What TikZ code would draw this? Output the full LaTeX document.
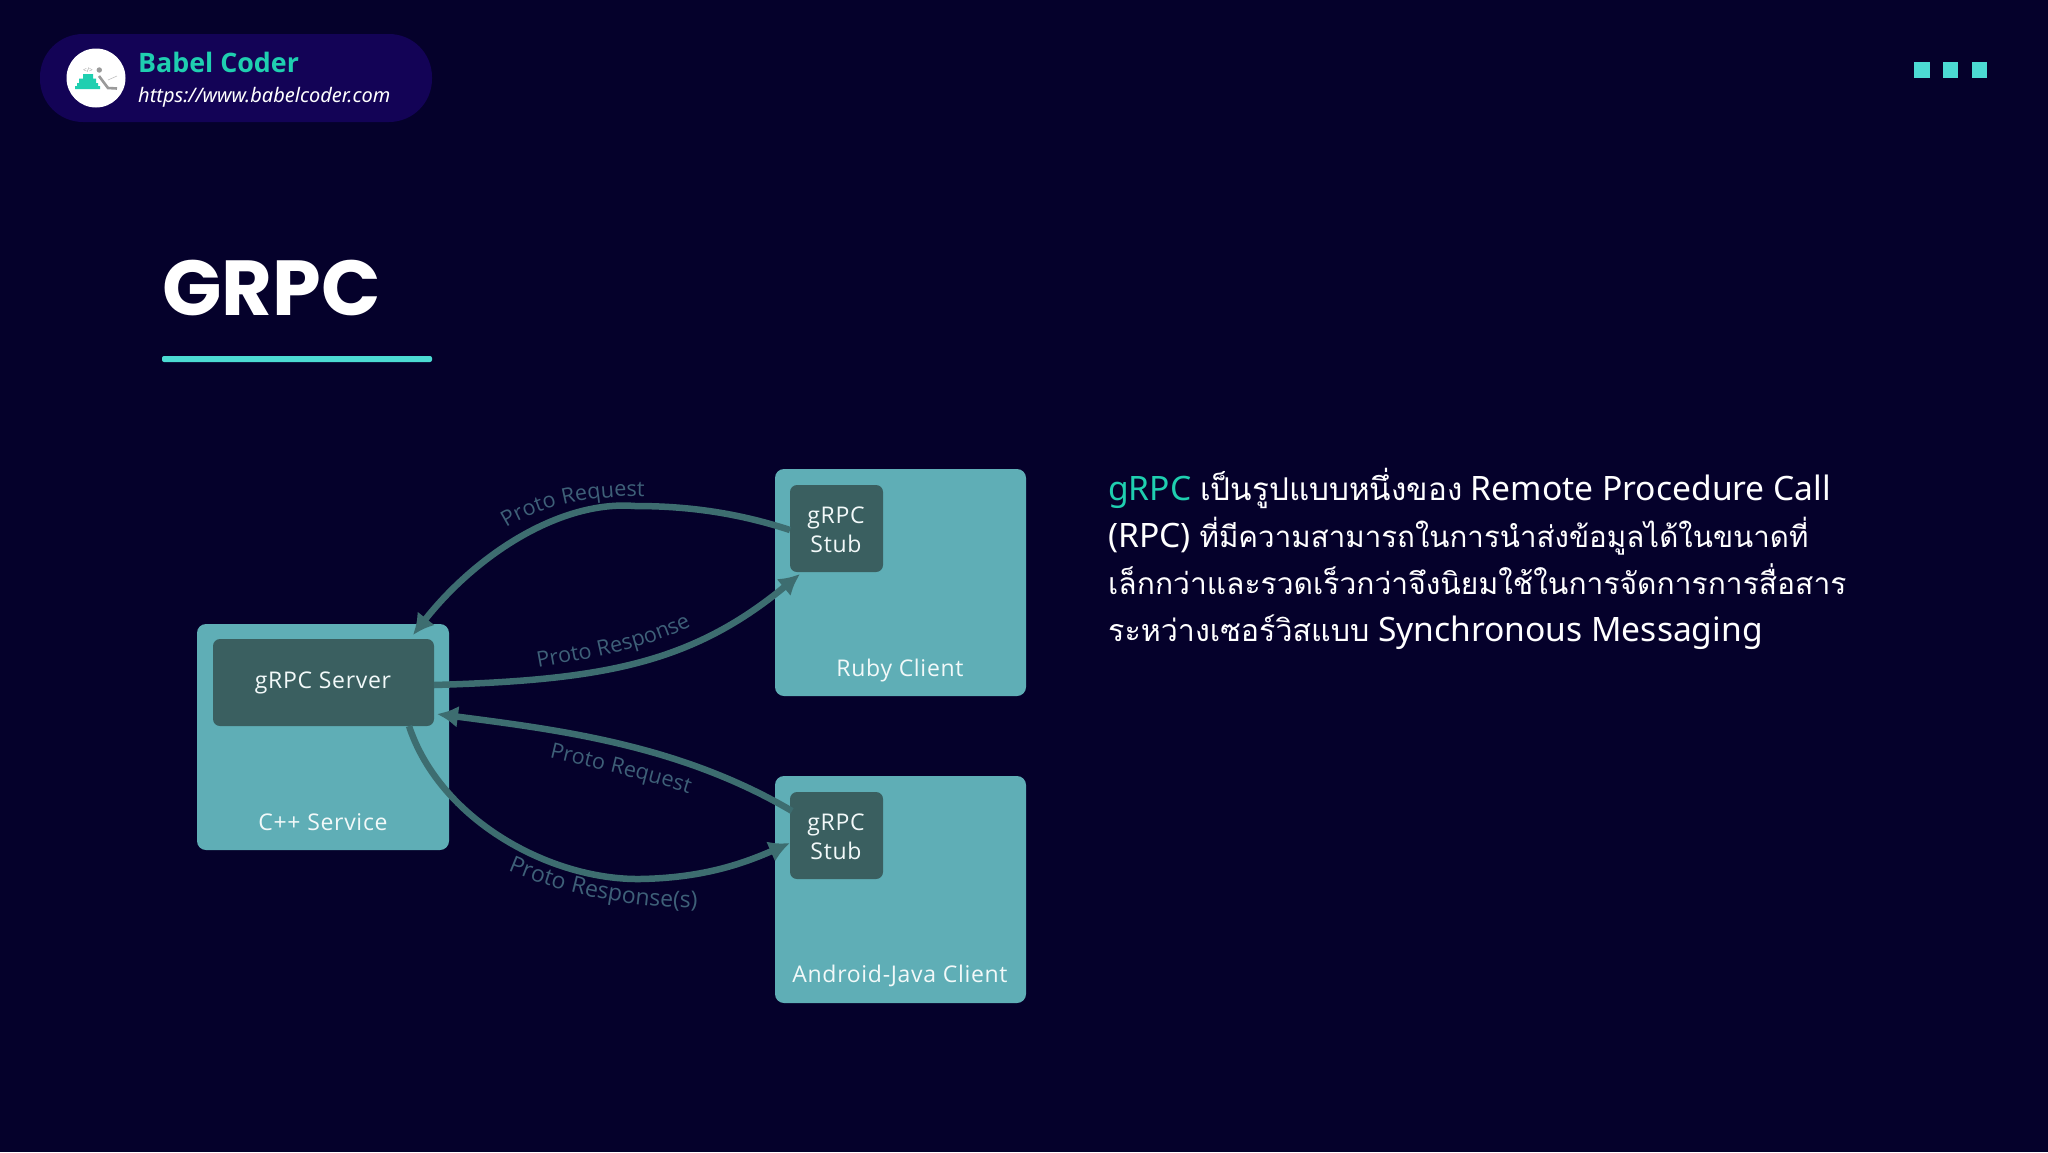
\documentclass[tikz,border=0pt]{standalone}
\usepackage{fontspec}
\usetikzlibrary{arrows.meta,decorations.text,shapes.geometric}
\setmainfont{Noto Sans}
\newfontfamily\thaifont[Script=Thai]{Loma}
\newfontfamily\boxfont{Open Sans}[LetterSpace=3]
\newfontfamily\brandfont{Open Sans}[BoldFont=* Bold]
\newfontfamily\titlefont{Poppins}[BoldFont=* Bold]
\definecolor{bgc}{HTML}{05012B}
\definecolor{pillc}{HTML}{130356}
\definecolor{brandc}{HTML}{1FCFB0}
\definecolor{squarec}{HTML}{4CDBD3}
\definecolor{boxc}{HTML}{5FAEB6}
\definecolor{innerc}{HTML}{3A5F60}
\definecolor{arrowc}{HTML}{3D6D70}
\definecolor{labelc}{HTML}{3E6078}
\definecolor{greyc}{HTML}{9A9A9A}
\tikzset{
  x=1pt,y=-1pt,
  outerbox/.style={fill=boxc,rounded corners=9pt},
  innerbox/.style={fill=innerc,rounded corners=7pt},
  boxtext/.style={font=\boxfont\fontsize{23}{29}\selectfont,text=white!92!boxc,align=center,inner sep=0pt},
  flow/.style={draw=arrowc,line width=6.5pt,-{Latex[length=21pt,width=22pt]}},
  bodyline/.style={anchor=base west,inner sep=0pt,text=white,font=\fontsize{33.6}{40}\selectfont},
  sq/.style={fill=squarec},
  along/.style={decorate,decoration={text along path,text align=center,text color=labelc,
     text={|\boxfont\fontsize{21.6}{25}\selectfont|#1}}},
  alongbig/.style={decorate,decoration={text along path,text align=center,text color=labelc,
     text={|\boxfont\fontsize{23}{25}\selectfont|#1}}},
}
\newcommand{\thx}[2]{{\thaifont\fontsize{#1}{40}\selectfont #2}}
\begin{document}
\begin{tikzpicture}
\useasboundingbox (0,0) rectangle (2048,1152);
\fill[bgc] (0,0) rectangle (2048,1152);
% header pill
\fill[pillc,rounded corners=43pt] (40,34) rectangle (432,122);
\fill[white] (96,78) circle (29.5);
\fill[brandc] (83,74) rectangle (93,78.5) (79,78.5) rectangle (96,83) (77,83) rectangle (98,86) (75,86) rectangle (100,89);
\fill[greyc] (99.3,70) circle (2.7);
\draw[greyc,line width=2.6pt] (99,76) -- (108,88) -- (117,88.5);
\draw[greyc!60,line width=0.6pt] (108,80) -- (117,76);
\node[inner sep=0pt,text=greyc,font=\fontsize{6.5}{7}\selectfont] (code) at (88,70) {</>};
\node[anchor=base west,inner sep=0pt,text=brandc,font=\brandfont\bfseries\fontsize{26.8}{30}\selectfont] (brand) at (138,72) {Babel Coder};
\node[anchor=base west,inner sep=0pt,text=white,font=\itshape\fontsize{20}{25}\selectfont] (url) at (138,102) {https://www.babelcoder.com};
% squares
\fill[sq] (1914,62) rectangle (1930,78);
\fill[sq] (1943,62) rectangle (1958,78);
\fill[sq] (1972,62) rectangle (1987,78);
% title
\node[anchor=base west,inner sep=0pt,text=white,font=\titlefont\bfseries\fontsize{78}{90}\selectfont] (title) at (162,315) {GRPC};
\fill[squarec,rounded corners=2pt] (162,356) rectangle (432,362);
% boxes
\fill[outerbox] (197,624) rectangle (449,850);
\fill[innerbox] (213,639) rectangle (434,726);
\fill[outerbox] (775,469) rectangle (1026,696);
\fill[innerbox] (790,485) rectangle (883,572);
\fill[outerbox] (775,776) rectangle (1026,1003);
\fill[innerbox] (790,792) rectangle (883,879);
\coordinate (srvTop) at (413,635);
\coordinate (srvRight) at (434,685);
\coordinate (srvIn) at (437,714);
\coordinate (srvBot) at (409,726);
\coordinate (stubAout) at (790,530);
\coordinate (stubAin) at (800,574);
\coordinate (stubBout) at (792,811);
\coordinate (stubBin) at (790,843);
% connectors
\draw[flow] (stubAout) .. controls (735,512) and (685,506) .. (635,506) .. controls (560,500) and (476,555) .. (srvTop);
\draw[flow] (srvRight) .. controls (600,680) and (690,665) .. (stubAin);
\draw[flow] (stubBout) .. controls (680,745) and (560,730) .. (srvIn);
\draw[flow] (srvBot) .. controls (440,820) and (550,880) .. (640,879) .. controls (700,878) and (740,865) .. (stubBin);
% labels
\path[along={Proto Request}] (496,535) .. controls (530,508) and (590,493) .. (657,497);
\path[along={Proto Response}] (526,670) .. controls (590,658) and (650,650) .. (702,620);
\path[along={Proto Request}] (538,755) .. controls (600,770) and (650,780) .. (700,797);
\path[alongbig={Proto Response(s)}] (498,866) .. controls (550,890) and (620,909) .. (708,908);
% box text
\node[boxtext] (srv) at (323,683) {gRPC Server};
\node[boxtext] (cpp) at (323,822) {C++ Service};
\node[boxtext] (ruby) at (900,671) {Ruby Client};
\node[boxtext] (java) at (900,976) {Android-Java Client};
\node[boxtext] (stubA) at (836,530) {gRPC\\Stub};
\node[boxtext] (stubB) at (836,837) {gRPC\\Stub};
% body
\node[bodyline] (l1) at (1108,500) {\textcolor{brandc}{gRPC} \thx{31.4}{เป็นรูปแบบหนึ่งของ} Remote Procedure Call};
\node[bodyline] (l2) at (1108,547) {(RPC) \thx{29.5}{ที่มีความสามารถในการนำส่งข้อมูลได้ในขนาดที่}};
\node[bodyline] (l3) at (1108,594) {\thx{30}{เล็กกว่าและรวดเร็วกว่าจึงนิยมใช้ในการจัดการการสื่อสาร}};
\node[bodyline] (l4) at (1108,641) {\thx{30.4}{ระหว่างเซอร์วิสแบบ} Synchronous Messaging};
\end{tikzpicture}
\end{document}
